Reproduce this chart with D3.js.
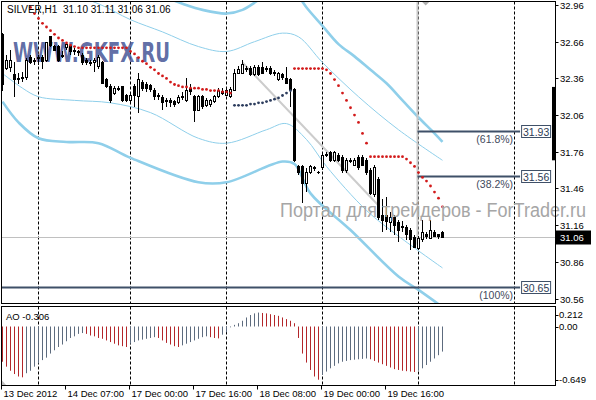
<!DOCTYPE html>
<html><head><meta charset="utf-8">
<script src="https://cdn.jsdelivr.net/npm/d3@7/dist/d3.min.js"></script>
<style>
html,body{margin:0;padding:0;background:#fff;}
svg{display:block;font-family:"Liberation Sans",Arial,sans-serif;}
</style></head><body>
<svg id="c" width="596" height="400"></svg>
<script>
// ---------- DATA (SILVER, H1) ----------
const opens = [32.72,32.44,32.45,32.39,32.36,32.36,32.37,32.53,32.51,32.52,
32.53,32.51,32.70,32.62,32.62,32.55,32.61,32.62,32.59,32.58,
32.55,32.51,32.49,32.49,32.46,32.49,32.35,32.29,32.24,32.28,
32.29,32.22,32.18,32.29,32.21,32.33,32.31,32.30,32.26,32.22,
32.20,32.18,32.18,32.17,32.16,32.21,32.18,32.28,32.21,32.10,
32.21,32.14,32.15,32.17,32.21,32.25,32.22,32.21,32.26,32.40,
32.40,32.43,32.44,32.39,32.45,32.45,32.44,32.44,32.41,32.35,
32.39,32.36,32.35,32.27,31.64,31.64,31.50,31.59,31.63,31.59,
31.63,31.73,31.75,31.69,31.73,31.71,31.61,31.69,31.65,31.71,
31.71,31.69,31.61,31.41,31.53,31.24,31.24,31.18,31.22,31.18,
31.15,31.14,31.12,31.06,30.97,31.04,31.08,31.05,31.10,31.08,
31.10];
const highs = [32.73,32.55,32.59,32.49,32.40,32.41,32.53,32.55,32.53,32.55,
32.55,32.66,32.71,32.63,32.63,32.58,32.66,32.63,32.61,32.59,
32.57,32.53,32.51,32.53,32.55,32.50,32.36,32.31,32.30,32.30,
32.30,32.23,32.25,32.31,32.40,32.35,32.33,32.31,32.28,32.24,
32.22,32.20,32.20,32.18,32.22,32.25,32.36,32.31,32.22,32.22,
32.22,32.20,32.19,32.22,32.28,32.28,32.28,32.29,32.44,32.46,
32.51,32.46,32.46,32.47,32.47,32.49,32.46,32.46,32.43,32.41,
32.40,32.45,32.36,32.28,31.65,31.65,31.63,31.65,31.64,31.60,
31.75,31.76,31.77,31.77,31.75,31.73,31.71,31.71,31.71,31.73,
31.73,31.71,31.63,31.65,31.55,31.37,31.39,31.27,31.24,31.20,
31.19,31.16,31.14,31.08,31.07,31.20,31.10,31.20,31.12,31.09,
31.11];
const lows = [32.26,32.43,32.41,32.21,32.31,32.33,32.35,32.48,32.47,32.47,
32.44,32.49,32.62,32.58,32.49,32.53,32.59,32.55,32.55,32.54,
32.47,32.47,32.46,32.41,32.44,32.31,32.28,32.16,32.22,32.26,
32.17,32.17,32.17,32.13,32.08,32.26,32.25,32.25,32.18,32.18,
32.10,32.13,32.13,32.13,32.15,32.18,32.17,32.22,32.00,32.09,
32.11,32.13,32.13,32.16,32.20,32.22,32.22,32.20,32.26,32.40,
32.40,32.41,32.38,32.38,32.38,32.40,32.41,32.39,32.38,32.34,
32.35,32.31,32.13,31.68,31.57,31.34,31.43,31.58,31.60,31.58,
31.61,31.72,31.68,31.68,31.68,31.59,31.59,31.67,31.64,31.61,
31.64,31.57,31.41,31.39,31.20,31.10,31.12,31.10,31.08,31.02,
31.10,31.04,30.96,30.97,30.96,31.02,31.05,31.05,31.06,31.05,
31.06];
const closes = [32.31,32.51,32.51,32.35,32.35,32.37,32.51,32.49,32.50,32.53,
32.50,32.65,32.63,32.59,32.51,32.54,32.64,32.58,32.58,32.57,
32.49,32.49,32.48,32.51,32.53,32.32,32.29,32.18,32.28,32.27,
32.18,32.18,32.22,32.22,32.35,32.28,32.28,32.27,32.21,32.21,
32.16,32.17,32.16,32.15,32.20,32.20,32.26,32.25,32.10,32.21,
32.13,32.18,32.18,32.21,32.26,32.24,32.26,32.27,32.40,32.43,
32.47,32.44,32.39,32.45,32.39,32.40,32.43,32.40,32.40,32.40,
32.37,32.32,32.27,31.69,31.59,31.50,31.59,31.64,31.62,31.59,
31.73,31.74,31.69,31.75,31.69,31.61,31.69,31.68,31.69,31.63,
31.65,31.59,31.42,31.63,31.22,31.20,31.19,31.22,31.16,31.12,
31.14,31.08,31.04,30.98,31.05,31.10,31.07,31.12,31.07,31.07,
31.06];
// Parabolic SAR (null = none); the bullish (below price) run is sarUpRange
const sar = [null,null,null,null,null,null,null,
32.94,32.89,32.85,32.81,32.78,32.75,32.72,32.69,32.67,32.65,32.63,32.62,
32.61,32.61,32.61,32.61,32.61,32.61,32.61,32.61,32.61,32.61,32.61,32.61,32.61,
32.58,32.56,32.53,32.50,32.48,32.45,32.43,32.40,32.38,32.36,32.33,32.31,32.30,32.29,32.29,32.28,32.28,32.28,32.27,32.27,32.26,32.26,32.26,32.25,32.25,32.24,
32.14,32.14,32.14,32.14,32.15,32.15,32.16,32.16,32.17,32.18,32.19,32.20,32.22,32.24,32.26,
32.44,32.44,32.44,32.44,32.44,32.44,32.44,32.44,
32.43,32.40,32.35,32.30,32.24,32.18,32.12,32.06,32.00,31.91,31.83,
31.72,31.72,31.72,31.72,31.72,31.72,31.72,31.72,31.72,
31.70,31.67,31.64,31.59,31.55,31.52,31.48,31.43,31.38,31.31];
const sarUpRange = [58, 72];
// Awesome Oscillator
const ao = [-0.43,-0.49,-0.54,-0.58,-0.61,-0.62,
-0.57,-0.54,-0.49,-0.45,-0.41,-0.38,-0.33,-0.29,-0.25,-0.22,-0.18,-0.14,-0.12,-0.09,-0.08,
-0.09,-0.11,-0.12,-0.14,-0.15,-0.17,-0.19,-0.21,-0.23,-0.24,-0.25,
-0.21,-0.19,-0.17,-0.16,-0.15,-0.14,-0.13,
-0.14,-0.17,-0.20,-0.22,-0.24,-0.25,
-0.23,-0.21,-0.19,-0.17,-0.15,-0.13,-0.12,
-0.13,-0.14,-0.145,
-0.10,-0.07,-0.01,0.02,0.04,0.07,0.11,0.14,0.16,0.17,
0.165,0.16,0.15,0.14,0.13,0.11,0.09,0.07,0.04,-0.14,-0.33,-0.44,-0.53,-0.61,-0.649,
-0.59,-0.55,-0.51,-0.48,-0.45,-0.43,-0.42,-0.41,-0.405,-0.40,-0.395,-0.39,
-0.40,-0.42,-0.44,-0.46,-0.48,-0.50,-0.52,-0.53,-0.54,-0.545,-0.55,-0.555,
-0.54,-0.51,-0.47,-0.43,-0.39,-0.35,-0.306];
// Bollinger-style bands: [bar index, price]
const bandUpperOuter = [[0,33.35],[10,33.30],[20,33.22],[30,33.13],[40,33.03],[45,32.97],[50,32.92],[56,32.89],[60,32.92],[64,33.00],[68,33.07],[72,33.09],[74,33.03],[76,32.94],[80,32.79],[84,32.64],[88,32.54],[92,32.43],[96,32.32],[100,32.18],[104,32.04],[108,31.91],[110,31.84]];
const bandUpperInner = [[0,33.20],[12,33.10],[24,32.97],[32,32.84],[40,32.74],[49,32.62],[56,32.58],[63,32.66],[70,32.73],[74,32.70],[80,32.49],[89,32.21],[99,31.94],[110,31.69]];
const bandLowerInner = [[0,32.40],[5,32.28],[9,32.21],[18,32.18],[27,32.16],[37,32.08],[49,31.87],[56,31.83],[66,31.94],[71,31.99],[76,31.86],[81,31.64],[91,31.28],[99,31.07],[110,30.81]];
const bandLowerOuter = [[0,32.17],[4,32.00],[9,31.87],[16,31.84],[24,31.83],[32,31.71],[49,31.51],[56,31.51],[70,31.68],[73,31.66],[77,31.42],[87,31.12],[99,30.74],[104,30.63],[110,30.49]];
const trendLine = [[60,32.49],[94,31.32]];
// Fibonacci levels
const fibPrices = [31.93, 31.56, 30.65];
const fibLabels = ["(61.8%)", "(38.2%)", "(100%)"];
const fibFrom = [103.75, 103.75, -1];
const fibTo = 129.4;
// axes
const priceTicks = [32.96, 32.66, 32.36, 32.06, 31.76, 31.46, 31.16, 30.86, 30.56];
const aoTicks = [0.212, 0.00, -0.649];
const aoTickLabels = ["0.212", "0.00", "-0.649"];
const timeTickIndex = [0, 16, 32, 48, 64, 80, 96];
const timeTickLabels = ["13 Dec 2012", "14 Dec 07:00", "17 Dec 00:00", "17 Dec 16:00", "18 Dec 08:00", "19 Dec 00:00", "19 Dec 16:00"];
const separatorIndex = [9, 32, 56, 80, 104, 128];
const lastPrice = 31.06;
const header = "SILVER,H1  31.10 31.11 31.06 31.06";

// ---------- DRAW ----------
const svg = d3.select("#c");
const L = 1.5, R = 555.5, mainT = 1.5, mainB = 303.5, aoT = 306.5, aoB = 385.5;
const x = d3.scaleLinear().domain([0, 1]).range([2.5, 6.5]);
const y = d3.scaleLinear().domain([30.56, 32.96]).range([298.5, 5]);
const yA = d3.scaleLinear().domain([-0.649, 0]).range([379.7, 326.5]);

svg.append("rect").attr("width", 596).attr("height", 400).attr("fill", "#fff");
const defs = svg.append("defs");
defs.append("clipPath").attr("id", "cm").append("rect").attr("x", L).attr("y", mainT).attr("width", R - L).attr("height", mainB - mainT);
defs.append("clipPath").attr("id", "ca").append("rect").attr("x", L).attr("y", aoT).attr("width", R - L).attr("height", aoB - aoT);

const gm = svg.append("g").attr("clip-path", "url(#cm)");
const ga = svg.append("g").attr("clip-path", "url(#ca)");

// separators (dashed)
[[gm, mainT, mainB], [ga, aoT, aoB]].forEach(([g, t, b]) => {
  g.selectAll(null).data(separatorIndex).enter().append("line")
    .attr("x1", d => Math.round(x(d)) - 0.5).attr("x2", d => Math.round(x(d)) - 0.5)
    .attr("y1", t).attr("y2", b).attr("stroke", "#000").attr("stroke-dasharray", "3,2").attr("stroke-width", 1);
});

// watermarks
gm.append("text").attr("x", 13).attr("y", 62).attr("font-size", 27).attr("font-weight", "bold")
  .attr("font-family", "'DejaVu Sans', sans-serif")
  .attr("textLength", 157).attr("lengthAdjust", "spacingAndGlyphs")
  .attr("fill", "#4d5c9b").attr("fill-opacity", 0.9).text("WWW.GKFX.RU");
svg.append("text").attr("x", 280).attr("y", 217).attr("font-size", 20)
  .attr("textLength", 306).attr("lengthAdjust", "spacingAndGlyphs")
  .attr("fill", "#a6a6a6").text("Портал для трейдеров - ForTrader.ru");

// bands
const line = d3.line().x(d => x(d[0])).y(d => y(d[1])).curve(d3.curveCatmullRom);
[[bandUpperOuter, 2.6], [bandLowerOuter, 2.6], [bandUpperInner, 1], [bandLowerInner, 1]].forEach(([d, w]) => {
  gm.append("path").attr("d", line(d)).attr("fill", "none").attr("stroke", "#8fcfea").attr("stroke-width", w);
});
// trend line
gm.append("path").attr("d", d3.line().x(d => x(d[0])).y(d => y(d[1]))(trendLine))
  .attr("stroke", "#cccccc").attr("stroke-width", 2).attr("fill", "none");

// bid line
gm.append("line").attr("x1", L).attr("x2", R).attr("y1", Math.round(y(lastPrice)) + 0.5).attr("y2", Math.round(y(lastPrice)) + 0.5)
  .attr("stroke", "#c0c0c0").attr("stroke-width", 1);

// vertical gray line of fib object
gm.append("line").attr("x1", Math.round(x(fibFrom[0])) - 0.5).attr("x2", Math.round(x(fibFrom[0])) - 0.5)
  .attr("y1", mainT).attr("y2", y(31.00)).attr("stroke", "#c8c8c8").attr("stroke-width", 2);
// shift marker
gm.append("path").attr("d", `M${x(104.8)},${mainT}L${x(106.8)},${mainT}L${x(105.8)},${mainT + 4}Z`).attr("fill", "#b0b0b0");

// fib lines
fibPrices.forEach((p, k) => {
  const yy = Math.round(y(p)) + 0.5;
  gm.append("line").attr("x1", x(fibFrom[k])).attr("x2", x(fibTo)).attr("y1", yy).attr("y2", yy)
    .attr("stroke", "#3f5068").attr("stroke-width", 2);
  gm.append("text").attr("x", x(fibTo) - 7).attr("y", yy + 11).attr("text-anchor", "end")
    .attr("font-size", 10.5).attr("fill", "#3f4a5c").text(fibLabels[k]);
  gm.append("rect").attr("x", x(fibTo) + 1.5).attr("y", yy - 6).attr("width", 29).attr("height", 12)
    .attr("fill", "#fff").attr("stroke", "#3f5068").attr("stroke-width", 1);
  gm.append("text").attr("x", x(fibTo) + 16).attr("y", yy + 4).attr("text-anchor", "middle")
    .attr("font-size", 10.5).attr("fill", "#2e3c55").text(p.toFixed(2));
});

// candles
const idx = d3.range(closes.length);
const cg = gm.append("g").attr("shape-rendering", "crispEdges");
cg.selectAll(null).data(idx).enter().append("line")
  .attr("x1", i => x(i)).attr("x2", i => x(i)).attr("y1", i => y(highs[i])).attr("y2", i => y(lows[i]))
  .attr("stroke", "#000");
cg.selectAll(null).data(idx).enter().append("rect")
  .attr("x", i => x(i) - 1).attr("width", 2)
  .attr("y", i => y(Math.max(opens[i], closes[i])))
  .attr("height", i => Math.max(0.01, Math.abs(y(opens[i]) - y(closes[i]))))
  .attr("fill", i => closes[i] >= opens[i] ? "#fff" : "#000").attr("stroke", "#000");

// SAR
gm.selectAll(null).data(idx.filter(i => sar[i] !== null)).enter().append("circle")
  .attr("cx", i => x(i)).attr("cy", i => y(sar[i])).attr("r", 1.4)
  .attr("fill", i => (i >= sarUpRange[0] && i <= sarUpRange[1]) ? "#2d3d5e" : "#d21a1a");

// AO histogram
ga.selectAll(null).data(idx).enter().append("line")
  .attr("x1", i => x(i)).attr("x2", i => x(i)).attr("y1", yA(0)).attr("y2", i => yA(ao[i]))
  .attr("stroke", i => (i > 0 && ao[i] > ao[i - 1]) ? "#5d6b7e" : "#b3262a").attr("stroke-width", 1);
ga.append("path").attr("d", `M${L + 0.5},${aoB - 5}L${L + 5},${aoB}L${L + 0.5},${aoB}Z`).attr("fill", "#c0c0c0");

// frames
svg.append("rect").attr("x", L).attr("y", mainT).attr("width", R - L).attr("height", mainB - mainT).attr("fill", "none").attr("stroke", "#000");
svg.append("rect").attr("x", L).attr("y", aoT).attr("width", R - L).attr("height", aoB - aoT).attr("fill", "none").attr("stroke", "#000");
svg.append("rect").attr("x", 552).attr("y", y(32.29)).attr("width", 3.5).attr("height", y(31.69) - y(32.29)).attr("fill", "#000");

// price axis
const ax = svg.append("g");
priceTicks.forEach(p => {
  const yy = Math.round(y(p)) + 0.5;
  ax.append("line").attr("x1", R).attr("x2", R + 3).attr("y1", yy).attr("y2", yy).attr("stroke", "#000");
  ax.append("text").attr("x", 560).attr("y", yy + 3.5).attr("font-size", 9.5).attr("fill", "#000").text(p.toFixed(2));
});
const ly = Math.round(y(lastPrice)) + 0.5;
ax.append("rect").attr("x", 556).attr("y", ly - 7).attr("width", 35).attr("height", 14).attr("fill", "#000");
ax.append("text").attr("x", 560).attr("y", ly + 3.5).attr("font-size", 9.5).attr("fill", "#fff").text(lastPrice.toFixed(2));

// AO axis
aoTicks.forEach((v, k) => {
  const yy = Math.min(Math.max(yA(v), aoT + 8), aoB - 6);
  ax.append("line").attr("x1", R).attr("x2", R + 3).attr("y1", Math.round(yy) + 0.5).attr("y2", Math.round(yy) + 0.5).attr("stroke", "#000");
  ax.append("text").attr("x", 559).attr("y", yy + 3.5).attr("font-size", 9.5).attr("fill", "#000").text(aoTickLabels[k]);
});

// time axis
timeTickIndex.forEach((t, k) => {
  const xx = Math.round(x(t)) - 1.5;
  ax.append("line").attr("x1", xx).attr("x2", xx).attr("y1", aoB).attr("y2", aoB + 4).attr("stroke", "#000");
  ax.append("text").attr("x", xx + 2).attr("y", 397).attr("font-size", 9.5).attr("fill", "#000").text(timeTickLabels[k]);
});

// titles
svg.append("text").attr("x", 7).attr("y", 13).attr("font-size", 10).attr("fill", "#000").attr("xml:space", "preserve").text(header);
svg.append("text").attr("x", 6).attr("y", 320).attr("font-size", 9.5).attr("fill", "#000").text("AO " + ao[ao.length - 1].toFixed(3));
</script>
</body></html>
